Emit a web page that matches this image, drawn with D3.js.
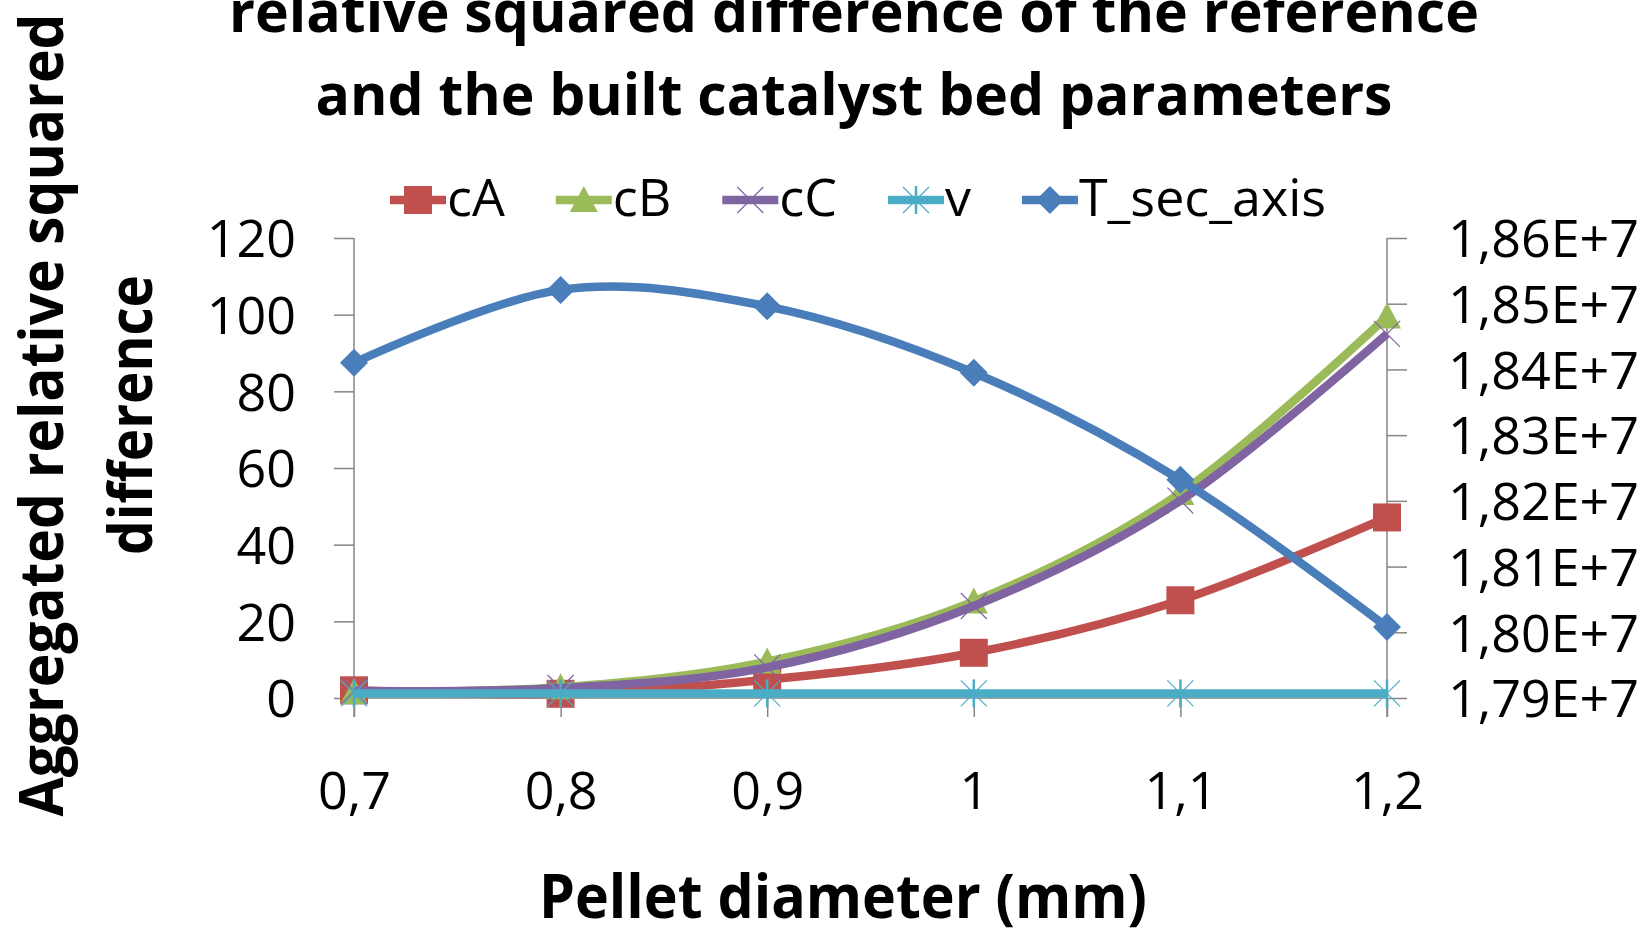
<!DOCTYPE html>
<html>
<head>
<meta charset="utf-8">
<script src="https://cdn.jsdelivr.net/npm/d3@7/dist/d3.min.js"></script>
<style>
  body { margin: 0; background: #fff; }
  svg { display: block; }
</style>
</head>
<body>
<div id="chart"></div>
<script>
// ---------- data ----------
const categories = ['0,7', '0,8', '0,9', '1', '1,1', '1,2'];
const cA = [2.0, 1.1, 4.8, 11.8, 25.5, 47.1];
const cB = [1.5, 2.8, 9.5, 25.2, 53.5, 99.5];
const cC = [1.8, 2.6, 8.0, 24.0, 51.5, 95.0];
const v  = [1.2, 1.2, 1.2, 1.2, 1.2, 1.2];
const T_sec_axis = [1.8410e7, 1.8521e7, 1.8496e7, 1.8395e7, 1.8232e7, 1.8008e7];

const leftTicks = [0, 20, 40, 60, 80, 100, 120];
const rightTicks = [1.79e7, 1.80e7, 1.81e7, 1.82e7, 1.83e7, 1.84e7, 1.85e7, 1.86e7];

const titleLines = ['relative squared difference of the reference', 'and the built catalyst bed parameters'];
const yTitleLines = ['Aggregated relative squared', 'difference'];
const xTitle = 'Pellet diameter (mm)';

// ---------- canvas ----------
const W = 1645, H = 928;
const FONT = "'Open Sans', 'DejaVu Sans', sans-serif";
const AXIS = '#868686';

const svg = d3.select('#chart').append('svg')
  .attr('width', W).attr('height', H)
  .style('font-family', FONT);

const plot = { left: 354, right: 1387, top: 238, bottom: 698 };

const x = d3.scalePoint().domain(categories).range([plot.left, plot.right]);
const yL = d3.scaleLinear().domain([0, 120]).range([plot.bottom, plot.top]);
const yR = d3.scaleLinear().domain([1.79e7, 1.86e7]).range([plot.bottom, plot.top]);

// series list (drawing order like the original: primary first, secondary last)
const series = [
  { name: 'cA', values: cA, color: '#C0504D', marker: 'square', y: yL },
  { name: 'cB', values: cB, color: '#9BBB59', marker: 'triangle', y: yL },
  { name: 'cC', values: cC, color: '#8064A2', marker: 'x', y: yL },
  { name: 'v', values: v, color: '#4BACC6', marker: 'star', y: yL },
  { name: 'T_sec_axis', values: T_sec_axis, color: '#4A7EBB', marker: 'diamond', y: yR }
];

// ---------- axes ----------
const fmtRight = d => (d / 1e7).toFixed(2).replace('.', ',') + 'E+7';

const leftAxis = svg.append('g')
  .attr('transform', `translate(${plot.left},0)`)
  .call(d3.axisLeft(yL).tickValues(leftTicks).tickSize(20).tickPadding(38));
const rightAxis = svg.append('g')
  .attr('transform', `translate(${plot.right},0)`)
  .call(d3.axisRight(yR).tickValues(rightTicks).tickSize(20).tickPadding(41).tickFormat(fmtRight));
const bottomAxis = svg.append('g')
  .attr('transform', `translate(0,${plot.bottom})`)
  .call(d3.axisBottom(x).tickSize(19).tickPadding(92));

[leftAxis, rightAxis, bottomAxis].forEach(a => {
  a.select('.domain').remove();
  a.selectAll('.tick line').attr('stroke', AXIS).attr('stroke-width', 1.5);
  a.selectAll('.tick text')
    .attr('fill', '#000')
    .style('font-family', FONT)
    .style('font-size', '52px');
});
bottomAxis.selectAll('.tick text').attr('dy', '0');
leftAxis.selectAll('.tick text').attr('dy', '0.36em');
rightAxis.selectAll('.tick text').attr('dy', '0.36em');

// axis lines
const axisLines = svg.append('g').attr('stroke', AXIS).attr('stroke-width', 1.5);
axisLines.append('line').attr('x1', plot.left).attr('x2', plot.left).attr('y1', plot.top).attr('y2', plot.bottom + 19);
axisLines.append('line').attr('x1', plot.right).attr('x2', plot.right).attr('y1', plot.top).attr('y2', plot.bottom + 19);
axisLines.append('line').attr('x1', plot.left).attr('x2', plot.right).attr('y1', plot.bottom).attr('y2', plot.bottom);

// ---------- markers ----------
const drawMarker = (g, type, color, cx, cy) => {
  if (type === 'square') {
    g.append('rect').attr('x', cx - 14).attr('y', cy - 14).attr('width', 28).attr('height', 28).attr('fill', color);
  } else if (type === 'triangle') {
    g.append('path').attr('d', `M${cx},${cy - 14}L${cx + 14},${cy + 12}L${cx - 14},${cy + 12}Z`).attr('fill', color);
  } else if (type === 'diamond') {
    g.append('path').attr('d', `M${cx},${cy - 14}L${cx + 14},${cy}L${cx},${cy + 14}L${cx - 14},${cy}Z`).attr('fill', color);
  } else if (type === 'x') {
    g.append('path').attr('d', `M${cx - 13},${cy - 13}L${cx + 13},${cy + 13}M${cx + 13},${cy - 13}L${cx - 13},${cy + 13}`)
      .attr('stroke', color).attr('stroke-width', 1.2).attr('fill', 'none');
  } else if (type === 'star') {
    g.append('path').attr('d', `M${cx - 13},${cy - 13}L${cx + 13},${cy + 13}M${cx + 13},${cy - 13}L${cx - 13},${cy + 13}`)
      .attr('stroke', color).attr('stroke-width', 1.2).attr('fill', 'none');
    g.append('path').attr('d', `M${cx},${cy - 14}L${cx},${cy + 14}`)
      .attr('stroke', color).attr('stroke-width', 2.5).attr('fill', 'none');
  }
};

// ---------- series ----------
series.forEach(s => {
  const g = svg.append('g');
  const line = d3.line()
    .x((d, i) => x(categories[i]))
    .y(d => s.y(d))
    .curve(d3.curveCardinal.tension(0));
  g.append('path')
    .datum(s.values)
    .attr('d', line)
    .attr('fill', 'none')
    .attr('stroke', s.color)
    .attr('stroke-width', 8.5)
    .attr('stroke-linejoin', 'round');
  s.values.forEach((d, i) => drawMarker(g, s.marker, s.color, x(categories[i]), s.y(d)));
});

// ---------- legend ----------
const legend = svg.append('g');
let lx = 390;
const ly = 200;
series.forEach(s => {
  const item = legend.append('g');
  item.append('line')
    .attr('x1', lx).attr('x2', lx + 56).attr('y1', ly).attr('y2', ly)
    .attr('stroke', s.color).attr('stroke-width', 8.5);
  drawMarker(item, s.marker, s.color, lx + 28, ly);
  const t = item.append('text')
    .attr('x', lx + 57).attr('y', ly + 16)
    .style('font-size', '52px')
    .attr('fill', '#000')
    .text(s.name);
  lx += 57 + t.node().getComputedTextLength() + 51;
});

// ---------- titles ----------
const titleWidths = [1250, 1077];
const title = svg.append('g').attr('font-weight', 700).style('font-size', '58px').attr('text-anchor', 'middle');
title.selectAll('text').data(titleLines).join('text')
  .attr('x', 854)
  .attr('y', (d, i) => 32 + i * 83)
  .attr('textLength', (d, i) => titleWidths[i])
  .attr('lengthAdjust', 'spacingAndGlyphs')
  .text(d => d);

svg.append('text')
  .attr('x', 843).attr('y', 918)
  .attr('text-anchor', 'middle')
  .attr('font-weight', 700)
  .style('font-size', '61px')
  .attr('textLength', 608)
  .attr('lengthAdjust', 'spacingAndGlyphs')
  .text(xTitle);

const yTitleWidths = [803, 280];
svg.append('g').selectAll('text').data(yTitleLines).join('text')
  .attr('transform', (d, i) => `translate(${63 + i * 89},415) rotate(-90)`)
  .attr('text-anchor', 'middle')
  .attr('font-weight', 700)
  .style('font-size', '61px')
  .attr('textLength', (d, i) => yTitleWidths[i])
  .attr('lengthAdjust', 'spacingAndGlyphs')
  .text(d => d);
</script>
</body>
</html>
